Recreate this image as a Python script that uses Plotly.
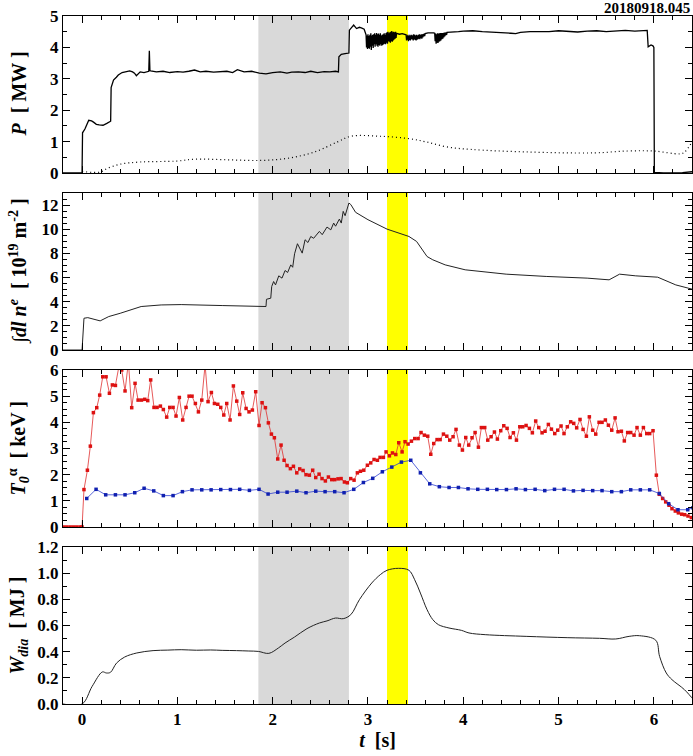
import plotly.graph_objects as go
from plotly.subplots import make_subplots

# ---------------- data ----------------
shot_label = "20180918.045"
gray_span = [1.85, 2.80]
yellow_span = [3.20, 3.42]

# Panel 1: heating power (solid) and dotted trace
t_p = [-0.2, -0.01, 0.0, 0.005, 0.03, 0.07, 0.10, 0.12, 0.15, 0.18, 0.22, 0.26, 0.29, 0.30,
       0.305, 0.33, 0.36, 0.38, 0.42, 0.45, 0.50, 0.53, 0.55, 0.57, 0.61, 0.65, 0.685, 0.70,
       0.706, 0.712, 0.72, 0.78, 0.85, 0.92, 1.00, 1.06, 1.12, 1.18, 1.24, 1.30, 1.38, 1.45,
       1.52, 1.58, 1.63, 1.70, 1.78, 1.86, 1.93, 2.00, 2.08, 2.15, 2.20, 2.27, 2.34, 2.40,
       2.47, 2.54, 2.60, 2.66, 2.69, 2.695, 2.72, 2.76, 2.80, 2.805, 2.83, 2.85, 2.88, 2.91,
       2.93, 2.96,
       2.98, 2.985, 2.99, 2.995, 3.00, 3.005, 3.01, 3.015, 3.02, 3.025, 3.03, 3.035, 3.04,
       3.045, 3.05, 3.055, 3.06, 3.065, 3.07, 3.075, 3.08, 3.085, 3.09, 3.095, 3.10, 3.105,
       3.11, 3.115, 3.12, 3.125, 3.13, 3.135, 3.14, 3.145, 3.15, 3.155, 3.16, 3.165, 3.17,
       3.175, 3.18, 3.185, 3.19, 3.195, 3.20, 3.205, 3.21, 3.215, 3.22, 3.225, 3.23, 3.235,
       3.24, 3.245, 3.25, 3.255, 3.26, 3.265, 3.27, 3.275, 3.28, 3.285, 3.29, 3.295, 3.30,
       3.33, 3.36, 3.39,
       3.40, 3.405, 3.41, 3.415, 3.42, 3.425, 3.43, 3.435, 3.44, 3.445, 3.45, 3.455, 3.46,
       3.465, 3.47, 3.475, 3.48, 3.485, 3.49, 3.495, 3.50, 3.505, 3.51, 3.515, 3.52, 3.525,
       3.53, 3.535, 3.54, 3.545, 3.55, 3.555, 3.56, 3.565, 3.57, 3.575, 3.58, 3.585, 3.59,
       3.595, 3.60,
       3.63, 3.66, 3.69,
       3.70, 3.705, 3.71, 3.715, 3.72, 3.725, 3.73, 3.735, 3.74, 3.745, 3.75, 3.755, 3.76,
       3.765, 3.77, 3.775, 3.78, 3.785, 3.79, 3.795, 3.80, 3.805, 3.81, 3.815, 3.82, 3.825,
       3.83,
       3.88, 3.95, 4.00, 4.10, 4.20, 4.30, 4.40, 4.50, 4.55, 4.60, 4.70, 4.80, 4.90, 5.00,
       5.10, 5.20, 5.30, 5.40, 5.50, 5.60, 5.70, 5.80, 5.90, 5.93,
       5.94, 5.97, 5.99, 6.00, 6.005, 6.10, 6.30, 6.40]
p_main = [0.0, 0.0, 0.0, 1.28, 1.40, 1.68, 1.66, 1.62, 1.55, 1.53, 1.52, 1.58, 1.65, 1.65,
          2.72, 2.96, 3.05, 3.12, 3.20, 3.22, 3.25, 3.22, 3.18, 3.10, 3.22, 3.20, 3.22, 3.24,
          3.89, 3.26, 3.25, 3.22, 3.24, 3.20, 3.23, 3.21, 3.24, 3.28, 3.22, 3.24, 3.21, 3.23,
          3.24, 3.20, 3.29, 3.22, 3.24, 3.18, 3.16, 3.20, 3.22, 3.18, 3.21, 3.22, 3.20, 3.24,
          3.20, 3.23, 3.22, 3.24, 3.22, 3.70, 3.78, 3.80, 3.82, 4.55, 4.66, 4.71, 4.60, 4.64,
          4.62, 4.58,
          4.40, 4.00, 4.38, 3.95, 4.42, 3.98, 4.36, 3.96, 4.40, 4.02, 4.45, 3.92, 4.38, 4.05,
          4.40, 3.98, 4.42, 4.10, 4.45, 4.02, 4.40, 4.10, 4.46, 4.05, 4.42, 4.02, 4.44, 4.08,
          4.40, 4.05, 4.45, 4.10, 4.38, 4.05, 4.40, 4.08, 4.42, 4.10, 4.45, 4.12, 4.40, 4.10,
          4.46, 4.15, 4.48, 4.12, 4.50, 4.20, 4.45, 4.18, 4.48, 4.15, 4.50, 4.20, 4.52, 4.18,
          4.48, 4.22, 4.50, 4.25, 4.48, 4.28, 4.50, 4.30, 4.45,
          4.42, 4.44, 4.41,
          4.40, 4.22, 4.38, 4.25, 4.40, 4.20, 4.36, 4.24, 4.40, 4.22, 4.38, 4.26, 4.40, 4.25,
          4.38, 4.22, 4.42, 4.26, 4.40, 4.24, 4.38, 4.22, 4.40, 4.25, 4.38, 4.26, 4.40, 4.28,
          4.42, 4.26, 4.40, 4.30, 4.42, 4.28, 4.42, 4.32, 4.42, 4.35, 4.44, 4.36, 4.44,
          4.46, 4.47, 4.46,
          4.45, 4.20, 4.44, 4.12, 4.42, 4.15, 4.45, 4.14, 4.44, 4.18, 4.45, 4.20, 4.46, 4.22,
          4.46, 4.26, 4.46, 4.28, 4.46, 4.32, 4.47, 4.35, 4.47, 4.38, 4.48, 4.40, 4.48,
          4.48, 4.50, 4.52, 4.53, 4.50, 4.49, 4.48, 4.45, 4.44, 4.48, 4.50, 4.49, 4.50, 4.53,
          4.50, 4.49, 4.52, 4.53, 4.50, 4.52, 4.54, 4.52, 4.55, 4.54,
          4.02, 4.08, 4.05, 4.00, 0.02, 0.0, 0.01, 0.04]

t_pdot = [0.0, 0.19, 0.26, 0.40, 0.61, 0.99, 1.18, 1.53, 1.88, 2.16, 2.44, 2.68, 2.82, 3.13,
          3.44, 3.61, 3.83, 4.08, 4.67, 5.37, 5.72, 6.00, 6.27, 6.32, 6.40]
p_dot = [0.05, 0.03, 0.14, 0.28, 0.35, 0.38, 0.44, 0.42, 0.40, 0.47, 0.67, 0.99, 1.17, 1.17,
         1.09, 0.99, 0.83, 0.75, 0.67, 0.64, 0.70, 0.70, 0.61, 0.66, 0.99]

# Panel 2: line-integrated density
t_ne = [-0.2, 0.0, 0.02, 0.06, 0.19, 0.28, 0.40, 0.62, 0.83, 1.04, 1.47, 1.87, 1.93, 1.935,
        1.98, 1.99, 2.01, 2.03, 2.064, 2.098, 2.13, 2.157, 2.19, 2.21, 2.23, 2.26, 2.31, 2.34,
        2.37, 2.40, 2.43, 2.49, 2.52, 2.57, 2.61, 2.64, 2.66, 2.70, 2.72, 2.74, 2.76, 2.80,
        2.82, 2.87, 3.00, 3.20, 3.43, 3.51, 3.57, 3.62, 3.68, 3.81, 4.02, 4.45, 4.87, 5.30,
        5.53, 5.64, 5.81, 6.04, 6.23, 6.43]
ne_int = [0.0, 0.0, 2.63, 2.68, 2.41, 2.77, 3.04, 3.60, 3.73, 3.76, 3.68, 3.57, 3.60, 4.20,
          4.29, 5.26, 5.67, 5.39, 6.14, 5.95, 6.58, 6.42, 7.05, 6.85, 7.97, 8.80, 8.02, 9.13,
          8.90, 9.40, 9.25, 9.82, 9.55, 10.18, 9.95, 10.51, 10.25, 10.84, 10.51, 11.48, 11.12,
          12.17, 12.04, 11.40, 10.79, 10.01, 9.40, 8.99, 8.30, 7.74, 7.47, 7.05, 6.64, 6.28,
          6.09, 5.95, 5.81, 6.28, 6.14, 6.03, 5.39, 4.98]

# Panel 3: central temperatures (red: electrons, blue: ions)
t_te = [-0.195, -0.16, -0.125, -0.09, -0.055, -0.02, 0.0,
        0.02, 0.056, 0.087, 0.119, 0.154, 0.185, 0.217, 0.252, 0.287, 0.318, 0.350, 0.385,
        0.416, 0.451, 0.486, 0.521, 0.556, 0.588, 0.623, 0.658, 0.689, 0.720, 0.755, 0.787,
        0.822, 0.853, 0.888, 0.920, 0.955, 0.986, 1.021, 1.056, 1.091, 1.123, 1.154, 1.189,
        1.221, 1.256, 1.291, 1.322, 1.357, 1.389, 1.424, 1.455, 1.487, 1.518, 1.553, 1.588,
        1.623, 1.654, 1.686, 1.721, 1.752, 1.787, 1.822, 1.857, 1.889, 1.924, 1.955, 1.987,
        2.018, 2.053, 2.088, 2.120, 2.151, 2.186, 2.218, 2.253, 2.284, 2.319, 2.350, 2.385,
        2.420, 2.452, 2.487, 2.518, 2.553, 2.585, 2.620, 2.651, 2.686, 2.718, 2.753, 2.784,
        2.819, 2.854, 2.889, 2.921, 2.956, 2.994, 3.029, 3.064, 3.099, 3.127, 3.162, 3.190,
        3.225, 3.257, 3.292, 3.323, 3.358, 3.389, 3.421, 3.456, 3.491, 3.526, 3.557, 3.592,
        3.627, 3.659, 3.690, 3.725, 3.757, 3.792, 3.827, 3.858, 3.893, 3.924, 3.959, 3.991,
        4.026, 4.057, 4.092, 4.124, 4.159, 4.190, 4.225, 4.257, 4.292, 4.327, 4.358, 4.393,
        4.425, 4.460, 4.491, 4.526, 4.558, 4.593, 4.624, 4.659, 4.694, 4.725, 4.760, 4.792,
        4.827, 4.858, 4.893, 4.925, 4.960, 4.991, 5.026, 5.057, 5.092, 5.127, 5.159, 5.190,
        5.225, 5.257, 5.292, 5.323, 5.358, 5.390, 5.425, 5.456, 5.491, 5.523, 5.558, 5.593,
        5.624, 5.659, 5.690, 5.725, 5.757, 5.792, 5.823, 5.858, 5.890, 5.925, 5.956, 5.991,
        6.026, 6.057, 6.092, 6.124, 6.159, 6.190, 6.225, 6.257, 6.292, 6.323, 6.358, 6.393]
te_red = [0.0, 0.0, 0.0, 0.0, 0.0, 0.0, 0.0,
          1.43, 2.17, 3.09, 4.37, 4.56, 5.04, 5.74, 5.74, 5.11, 5.43, 5.41, 6.10,
          6.00, 5.20, 6.30, 4.56, 5.49, 4.85, 4.85, 4.88, 4.83, 5.62, 4.57, 4.57,
          4.62, 4.49, 4.20, 4.57, 4.57, 4.24, 4.95, 4.09, 4.57, 5.00, 5.00, 4.72,
          4.40, 4.85, 6.20, 4.79, 5.14, 4.72, 4.69, 4.57, 4.28, 4.72, 4.09, 5.39,
          4.81, 4.30, 5.13, 4.53, 4.40, 4.47, 5.17, 3.88, 4.75, 4.56, 3.98, 3.55,
          3.41, 2.60, 3.13, 2.55, 2.35, 2.23, 2.32, 2.07, 2.22, 2.16, 2.00, 1.98,
          2.17, 1.89, 2.02, 1.85, 1.76, 1.91, 1.81, 1.81, 1.84, 1.85, 1.72, 1.69,
          1.85, 1.79, 2.07, 2.13, 2.17, 2.36, 2.45, 2.58, 2.55, 2.66, 2.66, 2.87,
          2.72, 2.83, 2.77, 3.22, 2.87, 3.26, 3.17, 3.28, 3.38, 3.38, 3.61, 3.51,
          3.47, 2.78, 3.19, 3.34, 3.34, 3.55, 3.47, 3.32, 3.45, 3.73, 3.13, 2.94,
          3.42, 3.13, 3.41, 3.61, 3.05, 3.80, 3.80, 3.32, 3.45, 3.63, 3.36, 3.68,
          3.87, 3.77, 3.42, 3.60, 3.32, 3.83, 3.83, 3.88, 3.77, 3.60, 4.05, 3.80,
          3.60, 3.66, 3.92, 3.74, 3.57, 3.70, 3.86, 3.57, 3.83, 4.02, 3.96, 3.79,
          4.11, 3.73, 3.47, 4.21, 3.70, 3.55, 4.00, 4.00, 4.09, 3.89, 3.70, 4.17,
          3.64, 3.66, 3.29, 3.61, 3.61, 3.51, 3.80, 3.51, 3.80, 3.57, 3.57, 3.68,
          1.98, 1.25, 1.09, 0.96, 0.83, 0.70, 0.61, 0.54, 0.49, 0.47, 0.42, 0.36]

t_ti = [0.049, 0.147, 0.248, 0.350, 0.451, 0.553, 0.651, 0.752, 0.853, 0.955, 1.053, 1.154,
        1.256, 1.354, 1.455, 1.557, 1.654, 1.756, 1.857, 1.952, 2.053, 2.151, 2.253, 2.350,
        2.452, 2.550, 2.651, 2.749, 2.851, 2.952, 3.050, 3.151, 3.250, 3.351, 3.449, 3.550,
        3.648, 3.749, 3.851, 3.949, 4.050, 4.152, 4.253, 4.351, 4.453, 4.554, 4.652, 4.754,
        4.855, 4.957, 5.058, 5.156, 5.257, 5.358, 5.456, 5.558, 5.659, 5.757, 5.858, 5.956,
        6.057, 6.155, 6.253, 6.355, 6.41]
ti_blue = [1.09, 1.44, 1.23, 1.23, 1.23, 1.31, 1.48, 1.38, 1.20, 1.20, 1.35, 1.42,
           1.42, 1.42, 1.43, 1.43, 1.44, 1.40, 1.44, 1.26, 1.33, 1.33, 1.37, 1.31,
           1.37, 1.35, 1.35, 1.31, 1.44, 1.70, 1.86, 2.11, 2.29, 2.48, 2.55, 2.07,
           1.65, 1.54, 1.51, 1.51, 1.46, 1.44, 1.44, 1.43, 1.43, 1.46, 1.43, 1.44,
           1.39, 1.44, 1.44, 1.38, 1.40, 1.39, 1.39, 1.35, 1.35, 1.42, 1.42, 1.42,
           1.28, 0.89, 0.66, 0.66, 0.74]

# Panel 4: diamagnetic energy
t_w = [-0.2, 0.0, 0.106, 0.213, 0.255, 0.298, 0.362, 0.447, 0.574, 0.745, 0.90, 1.04, 1.20,
       1.35, 1.47, 1.62, 1.75, 1.85, 1.96, 2.06, 2.13, 2.23, 2.36, 2.49, 2.57, 2.66, 2.74,
       2.82, 2.91, 3.04, 3.13, 3.20, 3.32, 3.43, 3.49, 3.55, 3.62, 3.68, 3.74, 3.85, 3.98,
       4.06, 4.23, 4.66, 5.09, 5.43, 5.60, 5.74, 5.85, 6.02, 6.06, 6.13, 6.19, 6.32, 6.43]
w_dia = [0.0, 0.0, 0.135, 0.245, 0.237, 0.242, 0.313, 0.359, 0.390, 0.408, 0.412, 0.415,
         0.411, 0.413, 0.410, 0.408, 0.405, 0.402, 0.387, 0.428, 0.466, 0.512, 0.576, 0.619,
         0.635, 0.657, 0.652, 0.683, 0.797, 0.925, 0.989, 1.022, 1.037, 1.022, 0.950, 0.848,
         0.721, 0.645, 0.606, 0.581, 0.563, 0.543, 0.530, 0.517, 0.507, 0.502, 0.497, 0.517,
         0.522, 0.487, 0.364, 0.237, 0.186, 0.110, 0.020]

y_titles = [
    "<b><i>P</i>  [ MW ]</b>",
    "<b>∫<i>dl n<sup>e</sup></i>  [ 10<sup>19</sup> m<sup>-2</sup> ]</b>",
    "<b><i>T</i><sub><i>0</i></sub><sup>α</sup>  [ keV ]</b>",
    "<b><i>W</i><sub><i>dia</i></sub>  [ MJ ]</b>",
]
y_ranges = [[0, 5], [0, 13], [0, 6], [0, 1.2]]
y_dticks = [1, 2, 1, 0.2]
y_minor = [0.5, 0.5, 0.25, 0.1]
x_title = "<b><i>t</i>  [s]</b>"

# ---------------- figure ----------------
W, H = 693, 756
ml, mr, mt, mb = 63, 1, 16, 52
fig = make_subplots(rows=4, cols=1, shared_xaxes=True, vertical_spacing=20 / 688)

fig.add_trace(go.Scatter(x=t_p, y=p_main, mode="lines",
                         line=dict(color="black", width=1.3)), row=1, col=1)
fig.add_trace(go.Scatter(x=t_pdot, y=p_dot, mode="lines", line_shape="spline",
                         line=dict(color="black", width=1.2, dash="1px,3px")), row=1, col=1)
fig.add_trace(go.Scatter(x=t_ne, y=ne_int, mode="lines",
                         line=dict(color="#222222", width=1.0)), row=2, col=1)
fig.add_trace(go.Scatter(x=t_te, y=te_red, mode="lines+markers",
                         line=dict(color="#e03030", width=0.8),
                         marker=dict(color="#dd1111", size=3.5, symbol="square")), row=3, col=1)
fig.add_trace(go.Scatter(x=t_ti, y=ti_blue, mode="lines+markers",
                         line=dict(color="#3040d0", width=0.8),
                         marker=dict(color="#1020b0", size=3.5, symbol="square")), row=3, col=1)
fig.add_trace(go.Scatter(x=t_w, y=w_dia, mode="lines", line_shape="spline",
                         line=dict(color="#222222", width=1.0)), row=4, col=1)

font_family = "Liberation Serif"
for i in range(4):
    yref = "y" if i == 0 else f"y{i+1}"
    for span, col in ((gray_span, "#d9d9d9"), (yellow_span, "#ffff00")):
        fig.add_shape(type="rect", xref="x" if i == 0 else f"x{i+1}",
                      yref=f"{yref} domain", x0=span[0], x1=span[1], y0=0, y1=1,
                      fillcolor=col, line_width=0, layer="below")

    fig.update_yaxes(row=i + 1, col=1, range=y_ranges[i], dtick=y_dticks[i], tick0=0,
                     showgrid=False, zeroline=False, showline=True, linecolor="black",
                     linewidth=1, mirror="allticks", ticks="inside", ticklen=7,
                     tickcolor="black", tickwidth=1,
                     minor=dict(dtick=y_minor[i], ticks="inside", ticklen=4,
                                tickcolor="black", showgrid=False),
                     tickfont=dict(family=font_family, size=17, color="black", weight="bold"),
                     tickformat=".1f" if i == 3 else "d")
    fig.update_xaxes(row=i + 1, col=1, range=[-0.2, 6.4], dtick=1, tick0=0,
                     showgrid=False, zeroline=False, showline=True, linecolor="black",
                     linewidth=1, mirror="allticks", ticks="inside", ticklen=7,
                     tickcolor="black", tickwidth=1,
                     minor=dict(dtick=0.2, ticks="inside", ticklen=4,
                                tickcolor="black", showgrid=False),
                     tickfont=dict(family=font_family, size=17, color="black", weight="bold"))

    dom_top = 1 - i * (157 + 20) / 688
    dom_mid = dom_top - 78.5 / 688
    fig.add_annotation(text=y_titles[i], xref="paper", yref="paper",
                       x=(18 - ml) / (W - ml - mr), y=dom_mid, xanchor="center",
                       yanchor="middle", textangle=-90, showarrow=False,
                       font=dict(family=font_family, size=20, color="black"))

fig.update_xaxes(row=4, col=1, title=dict(text=x_title, standoff=4,
                 font=dict(family=font_family, size=20, color="black")))

fig.add_annotation(text="<b>" + shot_label + "</b>", xref="paper", yref="paper",
                   x=1.0, y=1.0, xanchor="right", yanchor="bottom", yshift=-2,
                   showarrow=False, font=dict(family=font_family, size=15, color="black"))

fig.update_layout(width=W, height=H, showlegend=False,
                  margin=dict(l=ml, r=mr, t=mt, b=mb),
                  paper_bgcolor="white", plot_bgcolor="white")

fig.write_html("out.html", config={"displayModeBar": False},
               post_script="document.body.style.margin='0';"
                           "document.body.style.overflow='hidden';")
